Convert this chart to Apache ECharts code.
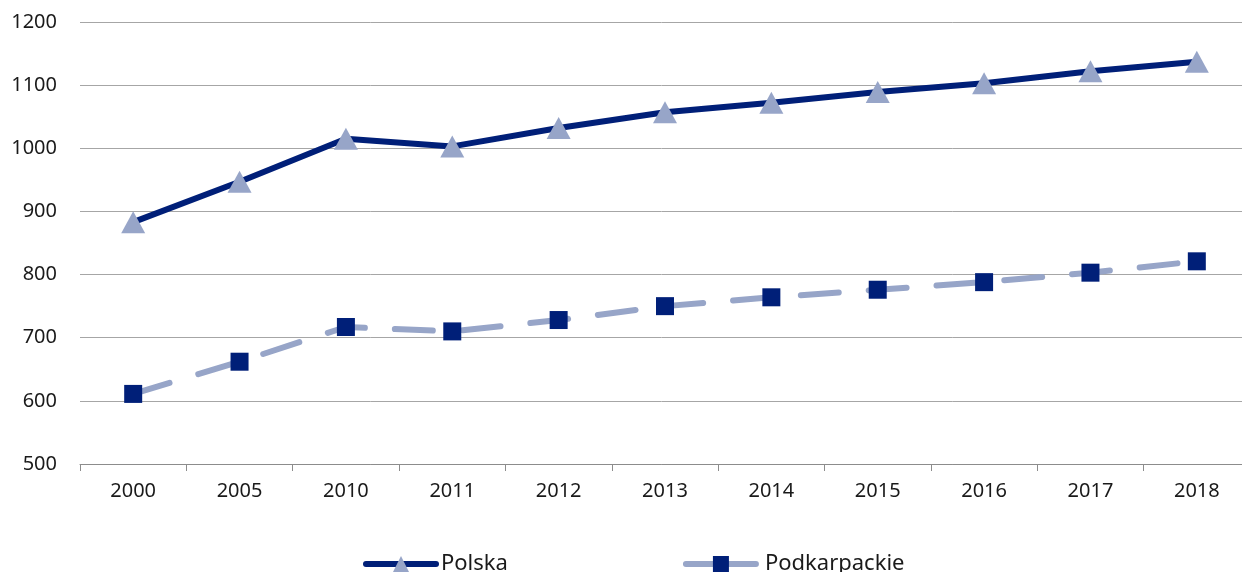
<!DOCTYPE html>
<html>
<head>
<meta charset="utf-8">
<script src="https://cdn.jsdelivr.net/npm/echarts@6/dist/echarts.min.js"></script>
<style>
  html, body { margin: 0; padding: 0; background: #fff; }
  #chart { width: 1242px; height: 572px; }
</style>
</head>
<body>
<div id="chart"></div>
<script>
var years = ["2000", "2005", "2010", "2011", "2012", "2013", "2014", "2015", "2016", "2017", "2018"];
var polska = [883, 947, 1015, 1003, 1032, 1057, 1072, 1089, 1103, 1122, 1137];
var podkarpackie = [611, 662, 717, 710, 728, 750, 764, 776, 788, 803, 821];

var navy = "#001f78";
var light = "#97a5c8";

var myChart = echarts.init(document.getElementById("chart"));

var option = {
  animation: false,
  textStyle: { fontFamily: "Noto Sans" },
  // plot runs a bit past the right edge, like in the source picture
  grid: { left: 80, width: 1170, top: 22, height: 442, outerBoundsMode: "none" },
  xAxis: {
    type: "category",
    data: years,
    boundaryGap: true,
    axisLine: { lineStyle: { color: "#8c8c8c", width: 1 } },
    axisTick: { show: true, length: 7, lineStyle: { color: "#8c8c8c" } },
    axisLabel: { color: "#1a1a1a", fontSize: 20, margin: 17 }
  },
  yAxis: {
    type: "value",
    min: 500,
    max: 1200,
    interval: 100,
    axisLine: { show: false },
    axisTick: { show: false },
    axisLabel: {
      color: "#1a1a1a",
      fontSize: 20,
      margin: 23,
      formatter: function (v) { return String(v); }
    },
    splitLine: { lineStyle: { color: "#a6a6a6", width: 1 } }
  },
  legend: {
    left: 358,
    top: 548,
    itemWidth: 70,
    itemHeight: 20,
    itemGap: 175,
    textStyle: { fontSize: 22, color: "#1a1a1a" },
    data: [
      { name: "Polska", lineStyle: { width: 6, cap: "round" } },
      {
        name: "Podkarpackie",
        itemStyle: { color: navy },
        lineStyle: { width: 6, type: "solid", cap: "round" },
        textStyle: { padding: [0, 0, 0, 4] }
      }
    ]
  },
  series: [
    {
      name: "Polska",
      type: "line",
      data: polska,
      symbol: "triangle",
      symbolSize: [24, 22],
      lineStyle: { color: navy, width: 6 },
      itemStyle: { color: light },
      z: 3
    },
    {
      name: "Podkarpackie",
      type: "line",
      data: podkarpackie,
      symbol: "rect",
      symbolSize: 18,
      lineStyle: { color: light, width: 6, type: [38, 30], cap: "round" },
      itemStyle: { color: navy },
      z: 2
    }
  ]
};

myChart.setOption(option);
</script>
</body>
</html>
